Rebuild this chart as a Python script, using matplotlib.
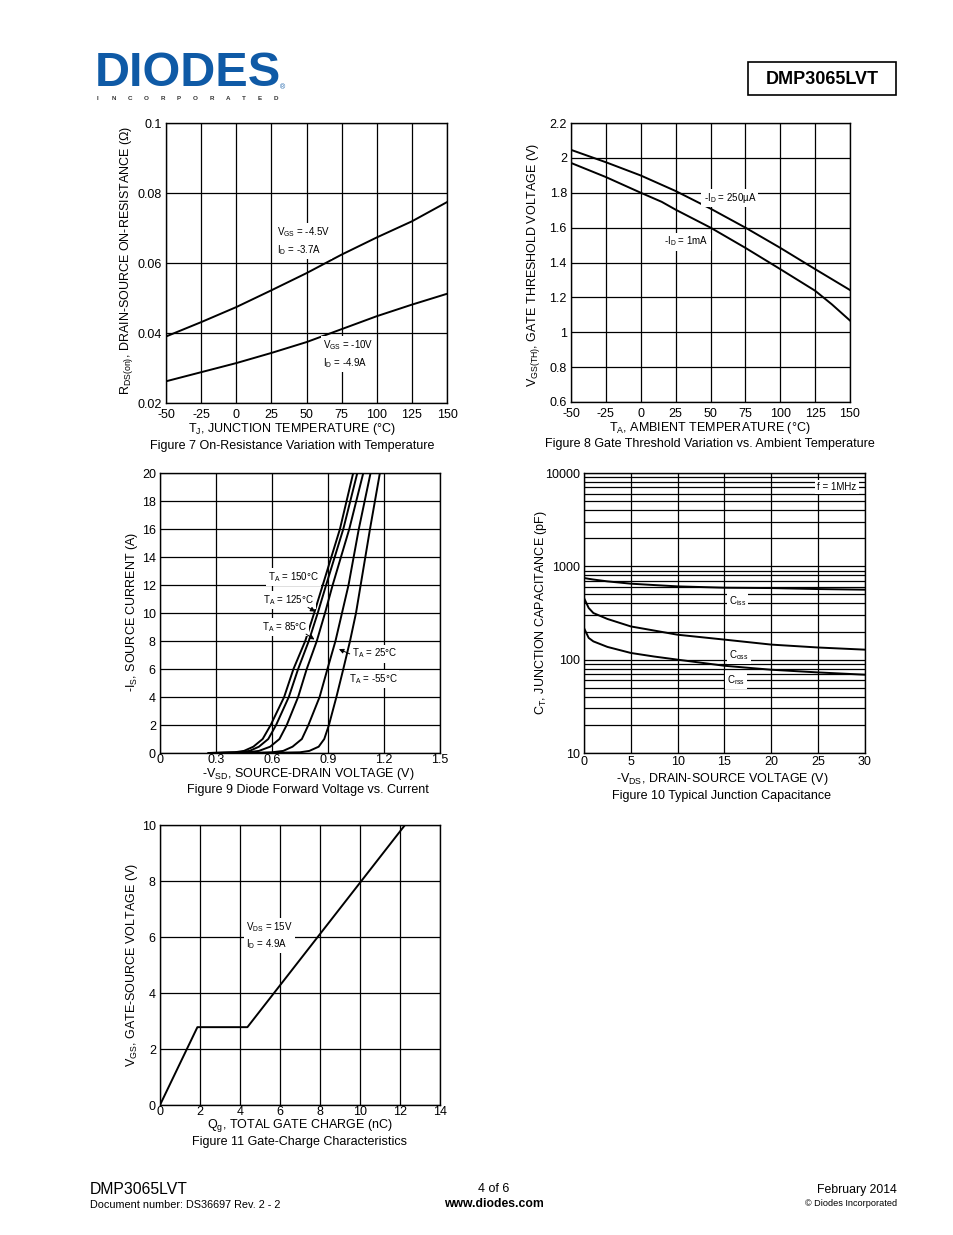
import numpy as np
import matplotlib.pyplot as plt

plt.rcParams['font.family'] = ['Liberation Sans', 'DejaVu Sans']
plt.rcParams['mathtext.fontset'] = 'custom'
plt.rcParams['mathtext.rm'] = 'Liberation Sans'
plt.rcParams['mathtext.it'] = 'Liberation Sans:italic'
plt.rcParams['mathtext.default'] = 'rm'
plt.rcParams['axes.unicode_minus'] = False

W, H = 954, 1235

# Figure 7 - on-resistance vs junction temperature
tj = [-50, -25, 0, 25, 50, 75, 100, 125, 150]
rds_vgs45 = [0.0390, 0.0431, 0.0474, 0.0522, 0.0571, 0.0624, 0.0673, 0.0719, 0.0774]
rds_vgs10 = [0.0262, 0.0288, 0.0314, 0.0343, 0.0374, 0.0411, 0.0448, 0.0481, 0.0512]

# Figure 8 - gate threshold vs ambient temperature
ta_250u = [-50, -25, 0, 25, 50, 75, 100, 125, 150]
vth_250u = [2.046, 1.975, 1.899, 1.810, 1.709, 1.600, 1.484, 1.362, 1.242]
ta_1m = [-50, -25, 0, 15, 25, 50, 75, 100, 125, 137, 150]
vth_1m = [1.971, 1.890, 1.800, 1.748, 1.703, 1.600, 1.484, 1.362, 1.238, 1.160, 1.067]

# Figure 9 - diode forward voltage vs current
i_s = [0, 0.05, 0.15, 0.45, 1.0, 2, 4, 6, 8, 10, 12, 16, 20]
vsd_150 = [0.26, 0.40, 0.45, 0.50, 0.55, 0.593, 0.665, 0.715, 0.778, 0.826, 0.872, 0.964, 1.035]
vsd_125 = [0.26, 0.42, 0.48, 0.53, 0.58, 0.622, 0.690, 0.740, 0.797, 0.845, 0.890, 0.982, 1.057]
vsd_85 = [0.30, 0.47, 0.53, 0.59, 0.64, 0.679, 0.740, 0.786, 0.840, 0.884, 0.925, 1.014, 1.089]
vsd_25 = [0.45, 0.60, 0.66, 0.71, 0.76, 0.795, 0.855, 0.897, 0.940, 0.975, 1.010, 1.065, 1.128]
vsd_m55 = [0.55, 0.75, 0.80, 0.85, 0.88, 0.905, 0.945, 0.982, 1.018, 1.050, 1.075, 1.125, 1.178]

# Figure 10 - junction capacitance
vds = [0, 0.5, 1, 2.5, 5, 7.5, 10, 15, 20, 25, 30]
ciss = [750, 735, 722, 690, 652, 630, 610, 590, 585, 571, 562]
coss = [458, 358, 316, 273, 227, 205, 185, 164, 145, 135, 128]
crss = [218, 171, 157, 137, 118, 108, 100, 86, 78, 73, 69]

# Figure 11 - gate charge
qg = [0, 1.87, 4.37, 12.25]
vgs = [0, 2.78, 2.78, 10]

fig = plt.figure(figsize=(W / 100, H / 100), dpi=100)

FS = 9.0
TS = 9.0
SMALL = 7.0


def px(x, y):
    return x / W, 1 - y / H


def ftext(x, y, s, **kw):
    kw.setdefault('fontsize', FS)
    kw.setdefault('ha', 'center')
    kw.setdefault('va', 'center')
    fig.text(*px(x, y), s, **kw)


def make_ax(l, t, r, b, xpad=3):
    ax = fig.add_axes([l / W, 1 - b / H, (r - l) / W, (b - t) / H])
    ax.tick_params(length=0, labelsize=TS, pad=3)
    ax.tick_params(axis='x', pad=xpad)
    for s in ax.spines.values():
        s.set_linewidth(1.0)
    ax.grid(True, which='major', color='black', lw=0.9)
    ax.set_axisbelow(True)
    return ax


box = dict(fc='white', ec='none', pad=1.5)

# ---- Figure 7
ax = make_ax(166, 123, 447, 403, xpad=4)
ax.plot(tj, rds_vgs45, color='black', lw=1.4)
ax.plot(tj, rds_vgs10, color='black', lw=1.4)
ax.set_xlim(-50, 150)
ax.set_ylim(0.02, 0.1)
ax.set_xticks(range(-50, 151, 25))
ax.set_yticks([0.02, 0.04, 0.06, 0.08, 0.1])
ax.set_yticklabels(['0.02', '0.04', '0.06', '0.08', '0.1'])
ax.text(29, 0.0663, 'V$_{GS}$ = -4.5V\nI$_D$ = -3.7A', fontsize=SMALL,
        linespacing=1.4, va='center', bbox=box)
ax.text(62, 0.0340, 'V$_{GS}$ = -10V\nI$_D$ = -4.9A', fontsize=SMALL,
        linespacing=1.4, va='center', bbox=box)
ftext(127, 260, 'R$_{DS(on)}$, DRAIN-SOURCE ON-RESISTANCE (Ω)', rotation=90)
ftext(292, 429, 'T$_J$, JUNCTION TEMPERATURE (°C)')
ftext(292, 446, 'Figure 7 On-Resistance Variation with Temperature')

# ---- Figure 8
ax = make_ax(571, 123, 850, 402, xpad=4)
ax.plot(ta_250u, vth_250u, color='black', lw=1.4)
ax.plot(ta_1m, vth_1m, color='black', lw=1.4)
ax.set_xlim(-50, 150)
ax.set_ylim(0.6, 2.2)
ax.set_xticks(range(-50, 151, 25))
ax.set_yticks([0.6, 0.8, 1.0, 1.2, 1.4, 1.6, 1.8, 2.0, 2.2])
ax.set_yticklabels(['0.6', '0.8', '1', '1.2', '1.4', '1.6', '1.8', '2', '2.2'])
ax.text(45, 1.77, '-I$_D$ = 250µA', fontsize=SMALL, va='center', bbox=box)
ax.text(17, 1.52, '-I$_D$ = 1mA', fontsize=SMALL, va='center', bbox=box)
ftext(533, 265, 'V$_{GS(TH)}$, GATE THRESHOLD VOLTAGE (V)', rotation=90)
ftext(710, 428, 'T$_A$, AMBIENT TEMPERATURE (°C)')
ftext(710, 444, 'Figure 8 Gate Threshold Variation vs. Ambient Temperature')

# ---- Figure 9
ax = make_ax(160, 473, 440, 753, xpad=1)
for v in [vsd_150, vsd_125, vsd_85, vsd_25, vsd_m55]:
    ax.plot(v, i_s, color='black', lw=1.4)
ax.set_xlim(0, 1.5)
ax.set_ylim(0, 20)
ax.set_xticks([0, 0.3, 0.6, 0.9, 1.2, 1.5])
ax.set_xticklabels(['0', '0.3', '0.6', '0.9', '1.2', '1.5'])
ax.set_yticks(range(0, 21, 2))
lab = dict(fontsize=SMALL, va='center', bbox=box)
ax.text(0.58, 12.6, 'T$_A$ = 150°C', **lab)
ax.text(0.55, 10.9, 'T$_A$ = 125°C', **lab)
ax.text(0.545, 9.0, 'T$_A$ = 85°C', **lab)
ax.text(1.03, 7.1, 'T$_A$ = 25°C', **lab)
ax.text(1.01, 5.3, 'T$_A$ = -55°C', **lab)
arw = dict(arrowstyle='-|>', color='black', lw=0.7, mutation_scale=7)
ax.annotate('', xy=(0.845, 10.0), xytext=(0.78, 10.5), arrowprops=arw)
ax.annotate('', xy=(0.840, 8.0), xytext=(0.77, 8.6), arrowprops=arw)
ax.annotate('', xy=(0.945, 7.5), xytext=(1.03, 7.0), arrowprops=arw)
ftext(132, 612, '-I$_S$, SOURCE CURRENT (A)', rotation=90)
ftext(308, 774, '-V$_{SD}$, SOURCE-DRAIN VOLTAGE (V)')
ftext(308, 790, 'Figure 9 Diode Forward Voltage vs. Current')

# ---- Figure 10
ax = make_ax(584, 473, 865, 753, xpad=2)
ax.set_yscale('log')
ax.grid(True, which='minor', axis='y', color='black', lw=0.9)
ax.plot(vds, ciss, color='black', lw=1.4)
ax.plot(vds, coss, color='black', lw=1.4)
ax.plot(vds, crss, color='black', lw=1.4)
ax.set_xlim(0, 30)
ax.set_ylim(10, 10000)
ax.set_xticks(range(0, 31, 5))
ax.set_yticks([10, 100, 1000, 10000])
ax.set_yticklabels(['10', '100', '1000', '10000'])
ax.tick_params(which='minor', length=0)
ax.text(24.9, 7000, 'f = 1MHz', fontsize=SMALL, va='center', bbox=box)
ax.text(15.5, 425, 'C$_{iss}$', fontsize=SMALL, va='center', bbox=box)
ax.text(15.5, 112, 'C$_{oss}$', fontsize=SMALL, va='center', bbox=box)
ax.text(15.3, 60, 'C$_{rss}$', fontsize=SMALL, va='center', bbox=box)
ftext(541, 613, 'C$_T$, JUNCTION CAPACITANCE (pF)', rotation=90)
ftext(722, 779, '-V$_{DS}$, DRAIN-SOURCE VOLTAGE (V)')
ftext(722, 796, 'Figure 10 Typical Junction Capacitance')

# ---- Figure 11
ax = make_ax(160, 825, 440, 1105, xpad=1)
ax.plot(qg, vgs, color='black', lw=1.4)
ax.set_xlim(0, 14)
ax.set_ylim(0, 10)
ax.set_xticks(range(0, 15, 2))
ax.set_yticks(range(0, 11, 2))
ax.text(4.3, 6.05, 'V$_{DS}$ = 15V\nI$_D$ = 4.9A', fontsize=SMALL,
        linespacing=1.4, va='center', bbox=box)
ftext(132, 965, 'V$_{GS}$, GATE-SOURCE VOLTAGE (V)', rotation=90)
ftext(300, 1126, 'Q$_g$, TOTAL GATE CHARGE (nC)')
ftext(300, 1142, 'Figure 11 Gate-Charge Characteristics')

# ---- header
blue = '#0f5aa6'
ftext(188, 74, 'DIODES', fontsize=35, fontweight='bold', color=blue)
fig.add_artist(plt.Line2D([97 / W, 262 / W], [1 - 78 / H, 1 - 78 / H],
                          color='white', lw=1.2))
ftext(283, 88, '®', fontsize=5, color=blue)
for k, ch in enumerate('INCORPORATED'):
    ftext(98 + k * 16.2, 98, ch, fontsize=4.5, fontweight='bold', color='#333333')
fig.add_artist(plt.Rectangle((748 / W, 1 - 95 / H), 148 / W, 33 / H,
                             fill=False, ec='black', lw=1.2))
ftext(822, 79, 'DMP3065LVT', fontsize=13, fontweight='bold')

# ---- footer
ftext(90, 1190, 'DMP3065LVT', fontsize=11.3, ha='left')
ftext(90, 1205, 'Document number: DS36697 Rev. 2 - 2', fontsize=7.8, ha='left')
ftext(494, 1189, '4 of 6', fontsize=9)
ftext(494, 1204, 'www.diodes.com', fontsize=8.8, fontweight='bold')
ftext(897, 1190, 'February 2014', fontsize=8.8, ha='right')
ftext(897, 1204, '© Diodes Incorporated', fontsize=6.6, ha='right')

fig.savefig('out.png', dpi=100)
